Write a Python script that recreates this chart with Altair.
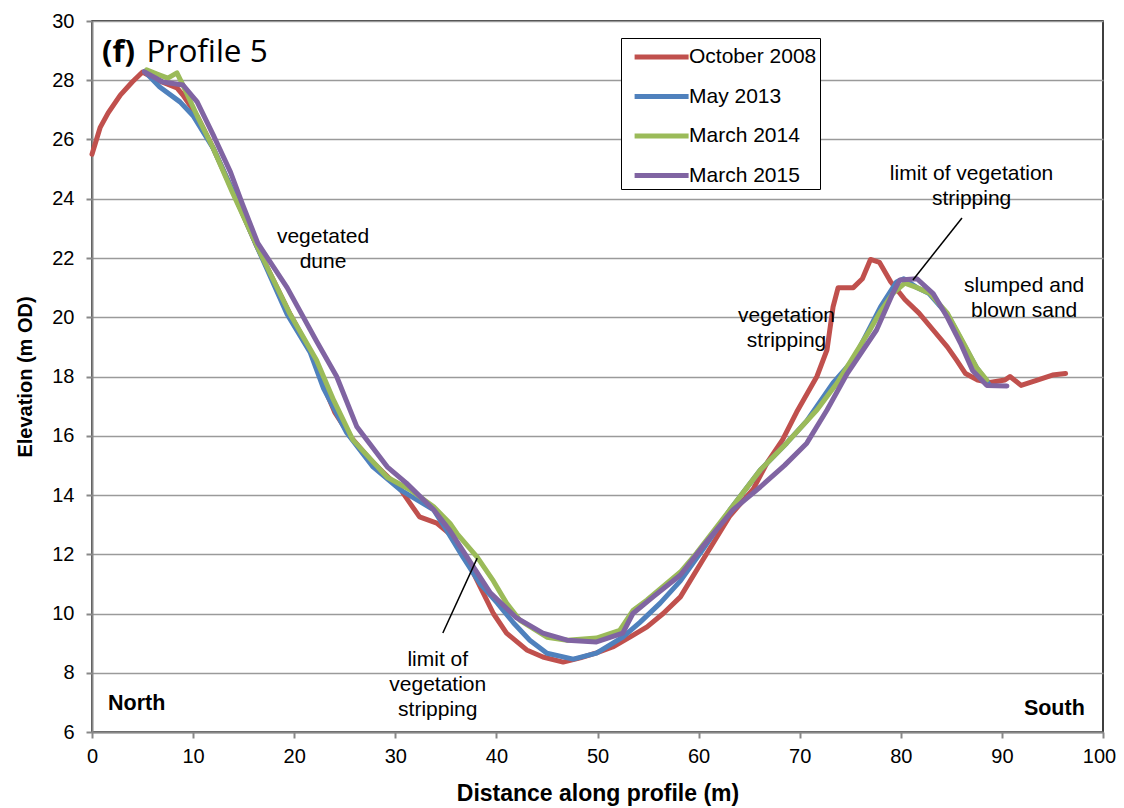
import altair as alt
import pandas as pd

# ---- data ----
series_names = ["October 2008", "May 2013", "March 2014", "March 2015"]
series_colors = ["#C0504D", "#4F81BD", "#9BBB59", "#8064A2"]

oct2008_d = [0, 0.8, 1.6, 2.8, 4.0, 5.0, 6.5, 8.4, 9.0, 10.4, 12, 14, 16.3, 19.6, 22.0, 23.0, 24.0, 25.5,
             27.5, 30.5, 31.5, 32.4, 34.1, 35.7, 37.1, 38.4, 39.7, 41.0, 43.0, 44.6, 46.6, 48.3, 49.9, 51.5,
             53.2, 54.9, 56.5, 58.2, 60.4, 63.1, 65.4, 66.8, 68.3, 69.7, 71.7, 72.7, 73.3, 73.8, 75.3, 76.2,
             77.0, 77.9, 79.0, 80.4, 81.8, 83.2, 84.6, 85.5, 86.4, 87.6, 88.8, 90.3, 90.8, 91.9, 93.5, 95.0, 96.3]
oct2008_e = [25.5, 26.4, 26.9, 27.5, 27.95, 28.28, 28.0, 27.74, 27.5, 26.8, 25.7, 24.2, 22.4, 20.1, 18.6, 17.6,
             16.8, 16.0, 15.2, 14.2, 13.7, 13.26, 13.05, 12.6, 11.8, 10.9, 10.0, 9.34, 8.77, 8.53, 8.36, 8.5,
             8.67, 8.87, 9.2, 9.55, 10.0, 10.56, 11.8, 13.3, 14.2, 15.1, 15.86, 16.8, 18.0, 18.9, 20.35, 21.0,
             21.0, 21.3, 21.95, 21.85, 21.2, 20.6, 20.14, 19.57, 19.0, 18.56, 18.1, 17.88, 17.8, 17.88, 18.0,
             17.7, 17.88, 18.05, 18.1]

may2013_d = [5.2, 6.7, 8.7, 10.0, 12.0, 14.0, 16.3, 19.3, 21.6, 22.9, 25.2, 27.8, 30.5, 33.8, 35.1, 36.7, 38.4,
             40.1, 41.7, 43.3, 45.0, 47.6, 49.9, 52.5, 54.2, 56.2, 58.2, 60.5, 63.1, 66.1, 68.7, 70.7, 73.3,
             75.3, 78.0, 79.6, 80.3, 81.6, 82.8, 84.6, 86.2, 87.5, 88.8]
may2013_e = [28.3, 27.77, 27.27, 26.8, 25.7, 24.2, 22.4, 20.1, 18.8, 17.6, 16.1, 14.95, 14.17, 13.5, 12.8, 11.9,
             11.0, 10.35, 9.68, 9.1, 8.66, 8.46, 8.66, 9.2, 9.7, 10.35, 11.1, 12.2, 13.5, 14.84, 15.75, 16.5,
             17.78, 18.56, 20.35, 21.2, 21.3, 21.0, 20.8, 20.1, 19.1, 18.3, 17.7]

mar2014_d = [5.4, 6.5, 7.5, 8.4, 8.9, 10.4, 12.0, 13.9, 16.5, 19.6, 22.2, 23.9, 25.8, 29.2, 31.5, 33.8, 35.4,
             36.1, 38.1, 39.7, 41.0, 42.3, 45.0, 47.0, 49.9, 52.2, 53.5, 54.9, 58.2, 59.8, 63.1, 66.1, 68.7,
             71.7, 73.7, 77.0, 78.0, 79.2, 80.4, 81.6, 82.9, 84.6, 86.2, 87.5, 88.5]
mar2014_e = [28.35, 28.2, 28.07, 28.25, 27.9, 26.8, 25.7, 24.2, 22.27, 20.1, 18.56, 17.2, 15.86, 14.6, 14.17,
             13.6, 13.05, 12.7, 11.9, 11.1, 10.35, 9.78, 9.2, 9.1, 9.17, 9.43, 10.1, 10.46, 11.4, 12.04, 13.5,
             14.84, 15.75, 16.87, 17.78, 19.6, 20.2, 20.8, 21.15, 21.0, 20.8, 20.14, 19.13, 18.3, 17.88]

mar2015_d = [5.2, 7.0, 9.0, 10.4, 12.0, 13.7, 14.9, 16.4, 19.3, 22.2, 24.2, 26.2, 29.2, 31.1, 33.8, 35.4, 37.1,
             39.4, 42.0, 44.6, 47.0, 49.9, 52.5, 53.5, 55.5, 58.2, 60.5, 63.4, 66.1, 68.5, 70.7, 72.7, 74.7,
             77.6, 79.2, 79.9, 81.6, 83.2, 84.6, 85.9, 87.1, 88.5, 90.5]
mar2015_e = [28.28, 27.94, 27.84, 27.27, 26.15, 24.9, 23.8, 22.5, 21.0, 19.2, 18.0, 16.3, 14.95, 14.4, 13.5,
             12.8, 11.9, 10.7, 9.85, 9.34, 9.1, 9.04, 9.34, 10.0, 10.56, 11.3, 12.3, 13.5, 14.27, 15.0, 15.75,
             16.87, 18.1, 19.57, 20.8, 21.26, 21.3, 20.8, 20.0, 19.13, 18.2, 17.7, 17.68]

x_ticks = list(range(0, 101, 10))
y_ticks = list(range(6, 31, 2))

# annotations (data coordinates)
note_text = ["vegetated\ndune", "limit of\nvegetation\nstripping", "vegetation\nstripping",
             "limit of vegetation\nstripping", "slumped and\nblown sand"]
note_d = [22.85, 34.2, 68.7, 87.0, 92.2]
note_e = [22.51, 8.23, 19.84, 24.63, 20.85]

leader_d = [34.7, 86.05]
leader_e = [9.34, 23.35]
leader_d2 = [38.1, 81.2]
leader_e2 = [11.87, 21.26]

side_text = ["North", "South"]
side_d = [1.58, 98.2]
side_e = [6.74, 6.57]
side_align = ["left", "right"]

panel_tag = "(f)"
panel_name = "Profile 5"
panel_tag_d, panel_tag_e = 0.99, 28.62
panel_name_d = 5.4

# ---- build tables ----
rows = []
for name, ds, es in zip(series_names,
                        [oct2008_d, may2013_d, mar2014_d, mar2015_d],
                        [oct2008_e, may2013_e, mar2014_e, mar2015_e]):
    for i, (d, e) in enumerate(zip(ds, es)):
        rows.append({"series": name, "d": d, "e": e, "i": i})
df = pd.DataFrame(rows)

notes = pd.DataFrame({"t": note_text, "d": note_d, "e": note_e})
leaders = pd.DataFrame({"d": leader_d, "e": leader_e, "d2": leader_d2, "e2": leader_e2})
sides = pd.DataFrame({"t": side_text, "d": side_d, "e": side_e, "a": side_align})

FONT = "Liberation Sans"
xscale = alt.Scale(domain=[0, 100], nice=False)
yscale = alt.Scale(domain=[6, 30], nice=False, zero=False)

lines = alt.Chart(df).mark_line(strokeWidth=5, strokeCap="round", strokeJoin="round").encode(
    x=alt.X("d:Q", scale=xscale,
            axis=alt.Axis(values=x_ticks, title="Distance along profile (m)", grid=False,
                          titlePadding=16, titleFontSize=23, labelFlush=False,
                          labelOffset={"condition": {"test": "datum.value == 100", "value": -4},
                                       "value": 0})),
    y=alt.Y("e:Q", scale=yscale,
            axis=alt.Axis(values=y_ticks, title="Elevation (m OD)", grid=True, titlePadding=16,
                          labelFlush=False)),
    color=alt.Color("series:N", sort=series_names,
                    scale=alt.Scale(domain=series_names, range=series_colors),
                    legend=alt.Legend(orient="none", legendX=529, legendY=17, title=None,
                                      symbolType="M-0.4,0H3.6", symbolSize=729, symbolStrokeWidth=5,
                                      labelFontSize=21, labelFont=FONT, labelColor="black",
                                      rowPadding=13.5, padding=3, labelOffset=33,
                                      strokeColor="black", fillColor="white")),
    order=alt.Order("i:Q"),
    detail="series:N",
)

rules = alt.Chart(leaders).mark_rule(color="black", strokeWidth=1.5).encode(
    x=alt.X("d:Q", scale=xscale), y=alt.Y("e:Q", scale=yscale), x2="d2:Q", y2="e2:Q")

note_marks = alt.Chart(notes).mark_text(font=FONT, fontSize=21, lineBreak="\n", lineHeight=25,
                                        align="center", baseline="alphabetic", color="black").encode(
    x=alt.X("d:Q", scale=xscale), y=alt.Y("e:Q", scale=yscale), text="t:N")

side_left = alt.Chart(sides[sides.a == "left"]).mark_text(
    font=FONT, fontSize=21.5, fontWeight="bold", align="left", baseline="alphabetic", color="black").encode(
    x=alt.X("d:Q", scale=xscale), y=alt.Y("e:Q", scale=yscale), text="t:N")
side_right = alt.Chart(sides[sides.a == "right"]).mark_text(
    font=FONT, fontSize=21.5, fontWeight="bold", align="right", baseline="alphabetic", color="black").encode(
    x=alt.X("d:Q", scale=xscale), y=alt.Y("e:Q", scale=yscale), text="t:N")

tag = alt.Chart(pd.DataFrame({"t": [panel_tag], "d": [panel_tag_d], "e": [panel_tag_e]})).mark_text(
    font="Open Sans", fontSize=31, fontWeight="bold", align="left", baseline="alphabetic",
    color="black").encode(x=alt.X("d:Q", scale=xscale), y=alt.Y("e:Q", scale=yscale), text="t:N")
name = alt.Chart(pd.DataFrame({"t": [panel_name], "d": [panel_name_d], "e": [panel_tag_e]})).mark_text(
    font="Open Sans", fontSize=31.5, align="left", baseline="alphabetic",
    color="black").encode(x=alt.X("d:Q", scale=xscale), y=alt.Y("e:Q", scale=yscale), text="t:N")

chart = alt.layer(lines, rules, note_marks, side_left, side_right, tag, name).properties(
    width=1011, height=711,
    autosize=alt.AutoSizeParams(type="none"),
    padding={"left": 84, "top": 13, "right": 13, "bottom": 78},
).configure_view(stroke="black", strokeWidth=1.5).configure_axis(
    labelFont=FONT, labelFontSize=20, labelColor="black",
    titleFont=FONT, titleFontSize=20, titleFontWeight="bold", titleColor="black",
    domainColor="#888888", domainWidth=2, tickColor="#888888", tickWidth=2, tickSize=6,
    gridColor="#9a9a9a", gridWidth=1.5,
).configure_axisY(labelPadding=12).configure_axisX(labelPadding=8)

chart.save("out.html", embed_options={"renderer": "svg", "actions": False})
